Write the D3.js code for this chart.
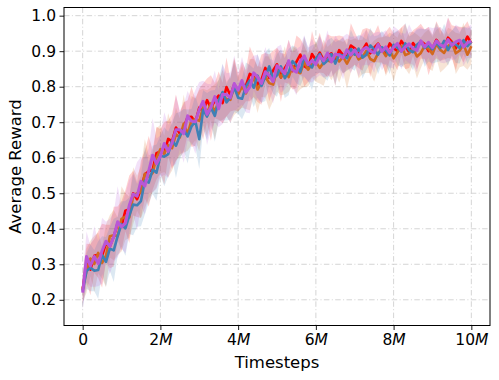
<!DOCTYPE html>
<html>
<head>
<meta charset="utf-8">
<script src="https://cdn.jsdelivr.net/npm/d3@7"></script>
<style>
  body { margin: 0; background: #fff; }
  text { font-family: "DejaVu Sans", sans-serif; fill: #000; }
</style>
</head>
<body>
<div id="chart"></div>
<script>
// Evaluaciones cada 0.1M pasos, de 0 a 10M
const timesteps = d3.range(0, 101).map(i => i * 1e5);

const xTicks = [0, 2e6, 4e6, 6e6, 8e6, 10e6];
const yTicks = [0.2, 0.3, 0.4, 0.5, 0.6, 0.7, 0.8, 0.9, 1.0];

const nombres = ["rojo", "naranja", "azul", "morado"];
const colores = ["#ff0000", "#d2691e", "#3f80b5", "#b956d6"];

// Promedios
const rMean = [
  0.228, 0.303, 0.285, 0.324, 0.327, 0.324, 0.359, 0.350, 0.378, 0.416,
  0.408, 0.451, 0.455, 0.500, 0.483, 0.511, 0.553, 0.562, 0.566, 0.613,
  0.618, 0.613, 0.653, 0.646, 0.685, 0.668, 0.686, 0.714, 0.715, 0.700,
  0.741, 0.730, 0.762, 0.740, 0.761, 0.775, 0.754, 0.799, 0.776, 0.806,
  0.783, 0.807, 0.803, 0.836, 0.829, 0.806, 0.820, 0.853, 0.825, 0.846,
  0.863, 0.826, 0.852, 0.870, 0.844, 0.870, 0.890, 0.858, 0.851, 0.892,
  0.875, 0.896, 0.875, 0.887, 0.894, 0.872, 0.903, 0.889, 0.883, 0.916,
  0.908, 0.892, 0.903, 0.921, 0.894, 0.910, 0.921, 0.903, 0.895, 0.922,
  0.908, 0.901, 0.929, 0.913, 0.898, 0.923, 0.908, 0.928, 0.920, 0.900,
  0.908, 0.932, 0.917, 0.912, 0.938, 0.926, 0.908, 0.929, 0.918, 0.941, 0.922
];
const oMean = [
  0.232, 0.282, 0.316, 0.301, 0.332, 0.304, 0.324, 0.379, 0.382, 0.379,
  0.428, 0.434, 0.432, 0.493, 0.500, 0.503, 0.555, 0.546, 0.557, 0.600,
  0.624, 0.611, 0.635, 0.627, 0.666, 0.657, 0.696, 0.667, 0.705, 0.708,
  0.704, 0.742, 0.726, 0.753, 0.729, 0.761, 0.777, 0.765, 0.763, 0.801,
  0.778, 0.801, 0.781, 0.806, 0.825, 0.792, 0.813, 0.828, 0.810, 0.806,
  0.847, 0.826, 0.846, 0.827, 0.858, 0.843, 0.838, 0.870, 0.848, 0.864,
  0.870, 0.853, 0.868, 0.874, 0.870, 0.887, 0.871, 0.884, 0.865, 0.886,
  0.899, 0.877, 0.884, 0.901, 0.878, 0.872, 0.894, 0.904, 0.886, 0.903,
  0.880, 0.897, 0.915, 0.889, 0.894, 0.909, 0.885, 0.895, 0.915, 0.906,
  0.892, 0.920, 0.904, 0.895, 0.914, 0.924, 0.894, 0.902, 0.919, 0.890, 0.914
];
const bMean = [
  0.225, 0.281, 0.290, 0.282, 0.284, 0.326, 0.307, 0.344, 0.339, 0.379,
  0.413, 0.401, 0.437, 0.468, 0.466, 0.478, 0.535, 0.530, 0.566, 0.558,
  0.606, 0.603, 0.610, 0.649, 0.634, 0.662, 0.679, 0.660, 0.688, 0.703,
  0.652, 0.735, 0.716, 0.741, 0.718, 0.761, 0.785, 0.756, 0.769, 0.798,
  0.769, 0.766, 0.801, 0.818, 0.797, 0.831, 0.802, 0.829, 0.857, 0.822,
  0.832, 0.857, 0.824, 0.841, 0.872, 0.860, 0.842, 0.885, 0.863, 0.854,
  0.879, 0.892, 0.864, 0.874, 0.892, 0.865, 0.891, 0.888, 0.880, 0.906,
  0.890, 0.907, 0.882, 0.890, 0.916, 0.905, 0.890, 0.911, 0.902, 0.888,
  0.918, 0.910, 0.899, 0.922, 0.903, 0.897, 0.918, 0.927, 0.909, 0.916,
  0.905, 0.925, 0.909, 0.929, 0.903, 0.923, 0.919, 0.909, 0.931, 0.914, 0.927
];
const pMean = [
  0.220, 0.322, 0.295, 0.322, 0.302, 0.338, 0.365, 0.350, 0.377, 0.420,
  0.405, 0.416, 0.466, 0.498, 0.492, 0.534, 0.520, 0.563, 0.607, 0.583,
  0.604, 0.640, 0.618, 0.641, 0.679, 0.679, 0.668, 0.718, 0.703, 0.701,
  0.736, 0.759, 0.722, 0.742, 0.772, 0.738, 0.779, 0.778, 0.769, 0.809,
  0.790, 0.817, 0.784, 0.799, 0.839, 0.827, 0.809, 0.842, 0.832, 0.814,
  0.859, 0.850, 0.837, 0.873, 0.847, 0.841, 0.872, 0.887, 0.862, 0.874,
  0.863, 0.887, 0.873, 0.895, 0.870, 0.892, 0.889, 0.881, 0.904, 0.889,
  0.904, 0.885, 0.904, 0.911, 0.900, 0.895, 0.919, 0.899, 0.912, 0.896,
  0.911, 0.922, 0.900, 0.912, 0.921, 0.907, 0.902, 0.929, 0.912, 0.925,
  0.910, 0.929, 0.918, 0.912, 0.933, 0.916, 0.926, 0.931, 0.912, 0.924, 0.928
];

// Semi-ancho de la banda sombreada
const rSpread = [
  0.040, 0.055, 0.072, 0.048, 0.066, 0.090, 0.052, 0.061, 0.084, 0.047,
  0.070, 0.058, 0.095, 0.063, 0.050, 0.081, 0.067, 0.099, 0.056, 0.074,
  0.062, 0.088, 0.051, 0.077, 0.093, 0.059, 0.070, 0.048, 0.085, 0.066,
  0.054, 0.079, 0.061, 0.092, 0.050, 0.068, 0.057, 0.083, 0.046, 0.072,
  0.053, 0.064, 0.044, 0.077, 0.058, 0.049, 0.071, 0.042, 0.066, 0.055,
  0.047, 0.069, 0.040, 0.062, 0.052, 0.074, 0.045, 0.058, 0.038, 0.065,
  0.043, 0.056, 0.037, 0.061, 0.048, 0.070, 0.041, 0.052, 0.036, 0.063,
  0.046, 0.039, 0.058, 0.044, 0.067, 0.040, 0.053, 0.035, 0.060, 0.047,
  0.042, 0.055, 0.038, 0.064, 0.045, 0.036, 0.059, 0.049, 0.041, 0.068,
  0.039, 0.052, 0.044, 0.036, 0.057, 0.047, 0.062, 0.040, 0.050, 0.043, 0.035
];
const oSpread = [
  0.038, 0.062, 0.050, 0.079, 0.057, 0.045, 0.088, 0.060, 0.071, 0.053,
  0.092, 0.066, 0.058, 0.080, 0.049, 0.073, 0.097, 0.061, 0.055, 0.084,
  0.068, 0.051, 0.090, 0.063, 0.075, 0.054, 0.082, 0.047, 0.069, 0.059,
  0.086, 0.052, 0.064, 0.045, 0.078, 0.057, 0.070, 0.049, 0.063, 0.081,
  0.048, 0.060, 0.044, 0.072, 0.053, 0.066, 0.042, 0.058, 0.075, 0.046,
  0.061, 0.050, 0.068, 0.041, 0.055, 0.063, 0.045, 0.070, 0.048, 0.039,
  0.057, 0.044, 0.065, 0.038, 0.052, 0.047, 0.060, 0.042, 0.071, 0.045,
  0.037, 0.054, 0.048, 0.062, 0.040, 0.058, 0.044, 0.035, 0.056, 0.049,
  0.066, 0.041, 0.053, 0.038, 0.059, 0.046, 0.062, 0.043, 0.037, 0.055,
  0.048, 0.040, 0.064, 0.045, 0.052, 0.036, 0.058, 0.047, 0.061, 0.042, 0.050
];
const bSpread = [
  0.042, 0.050, 0.066, 0.058, 0.081, 0.053, 0.070, 0.062, 0.089, 0.055,
  0.064, 0.077, 0.052, 0.086, 0.060, 0.071, 0.095, 0.057, 0.068, 0.079,
  0.056, 0.083, 0.063, 0.050, 0.091, 0.067, 0.058, 0.076, 0.049, 0.072,
  0.084, 0.055, 0.066, 0.048, 0.073, 0.059, 0.080, 0.051, 0.062, 0.070,
  0.045, 0.058, 0.067, 0.043, 0.054, 0.062, 0.047, 0.069, 0.052, 0.041,
  0.060, 0.048, 0.056, 0.065, 0.044, 0.051, 0.039, 0.058, 0.047, 0.063,
  0.042, 0.053, 0.038, 0.057, 0.046, 0.061, 0.040, 0.050, 0.035, 0.054,
  0.045, 0.039, 0.059, 0.043, 0.050, 0.037, 0.055, 0.046, 0.040, 0.052,
  0.034, 0.049, 0.044, 0.058, 0.038, 0.051, 0.042, 0.036, 0.053, 0.045,
  0.040, 0.056, 0.037, 0.048, 0.043, 0.035, 0.052, 0.044, 0.039, 0.050, 0.041
];
const pSpread = [
  0.048, 0.070, 0.058, 0.085, 0.064, 0.093, 0.055, 0.078, 0.069, 0.100,
  0.061, 0.084, 0.072, 0.057, 0.096, 0.068, 0.080, 0.063, 0.104, 0.071,
  0.059, 0.088, 0.075, 0.066, 0.097, 0.054, 0.082, 0.070, 0.061, 0.090,
  0.077, 0.058, 0.086, 0.065, 0.073, 0.052, 0.084, 0.060, 0.071, 0.079,
  0.050, 0.067, 0.057, 0.074, 0.048, 0.063, 0.055, 0.070, 0.046, 0.061,
  0.053, 0.068, 0.044, 0.059, 0.050, 0.065, 0.042, 0.058, 0.049, 0.062,
  0.040, 0.055, 0.047, 0.064, 0.043, 0.052, 0.039, 0.060, 0.045, 0.051,
  0.038, 0.057, 0.044, 0.049, 0.041, 0.056, 0.036, 0.053, 0.047, 0.042,
  0.059, 0.040, 0.051, 0.037, 0.054, 0.045, 0.061, 0.039, 0.048, 0.043,
  0.055, 0.038, 0.050, 0.046, 0.062, 0.041, 0.049, 0.036, 0.053, 0.044, 0.047
];

const medias = [rMean, oMean, bMean, pMean];
const anchos = [rSpread, oSpread, bSpread, pSpread];

const width = 499;
const height = 380;
const margin = { top: 7.5, right: 9, bottom: 54.5, left: 64 };

const svg = d3.select("#chart")
  .append("svg")
  .attr("width", width)
  .attr("height", height);

const x = d3.scaleLinear()
  .domain([-0.48e6, 10.48e6])
  .range([margin.left, width - margin.right]);

const y = d3.scaleLinear()
  .domain([0.1276, 1.023])
  .range([height - margin.bottom, margin.top]);

// Grilla con línea punto-raya
const grilla = svg.append("g")
  .attr("stroke", "#d0d0d0")
  .attr("stroke-width", 0.9)
  .attr("stroke-dasharray", "5.5,2.4,1,2.4");

grilla.selectAll(".gx")
  .data(xTicks)
  .join("line")
  .attr("x1", d => x(d)).attr("x2", d => x(d))
  .attr("y1", margin.top).attr("y2", height - margin.bottom);

grilla.selectAll(".gy")
  .data(yTicks)
  .join("line")
  .attr("x1", margin.left).attr("x2", width - margin.right)
  .attr("y1", d => y(d)).attr("y2", d => y(d));

// Series: bandas primero, luego líneas
const area = d3.area()
  .x((d, i) => x(timesteps[i]))
  .y0(d => y(d[0] - d[1]))
  .y1(d => y(d[0] + d[1]));

const linea = d3.line()
  .x((d, i) => x(timesteps[i]))
  .y(d => y(d));

const series = svg.append("g");
medias.forEach((media, k) => {
  const pares = media.map((m, i) => [m, anchos[k][i]]);
  series.append("path")
    .attr("class", "banda-" + nombres[k])
    .attr("d", area(pares))
    .attr("fill", colores[k])
    .attr("fill-opacity", 0.18)
    .attr("stroke", "none");
});
medias.forEach((media, k) => {
  series.append("path")
    .attr("class", "linea-" + nombres[k])
    .attr("d", linea(media))
    .attr("fill", "none")
    .attr("stroke", colores[k])
    .attr("stroke-width", k === 3 ? 3 : 2.6)
    .attr("stroke-linejoin", "round");
});

// Ejes
const ejeX = d3.axisBottom(x)
  .tickValues(xTicks)
  .tickSize(4.5)
  .tickPadding(4)
  .tickFormat(() => "");

const gx = svg.append("g")
  .attr("transform", `translate(0,${height - margin.bottom})`)
  .call(ejeX);

gx.selectAll(".tick text").each(function (d) {
  const t = d3.select(this);
  if (d === 0) {
    t.text("0");
  } else {
    t.append("tspan").text(d / 1e6);
    t.append("tspan").attr("font-style", "italic").text("M");
  }
});

const ejeY = d3.axisLeft(y)
  .tickValues(yTicks)
  .tickSize(4.5)
  .tickPadding(3.5)
  .tickFormat(d3.format(".1f"));

const gy = svg.append("g")
  .attr("transform", `translate(${margin.left},0)`)
  .call(ejeY);

[gx, gy].forEach(g => {
  g.select(".domain").remove();
  g.selectAll(".tick line").attr("stroke", "#000").attr("stroke-width", 0.9);
  g.selectAll(".tick text")
    .attr("font-family", "DejaVu Sans")
    .attr("font-size", 15.5)
    .attr("fill", "#000");
});

// Marco completo
svg.append("rect")
  .attr("x", margin.left)
  .attr("y", margin.top)
  .attr("width", width - margin.left - margin.right)
  .attr("height", height - margin.top - margin.bottom)
  .attr("fill", "none")
  .attr("stroke", "#000")
  .attr("stroke-width", 1);

// Etiquetas
svg.append("text")
  .attr("x", (margin.left + width - margin.right) / 2)
  .attr("y", 368)
  .attr("text-anchor", "middle")
  .attr("font-size", 16.5)
  .text("Timesteps");

svg.append("text")
  .attr("transform", `translate(20.5,${(margin.top + height - margin.bottom) / 2}) rotate(-90)`)
  .attr("text-anchor", "middle")
  .attr("font-size", 16.5)
  .text("Average Reward");
</script>
</body>
</html>
